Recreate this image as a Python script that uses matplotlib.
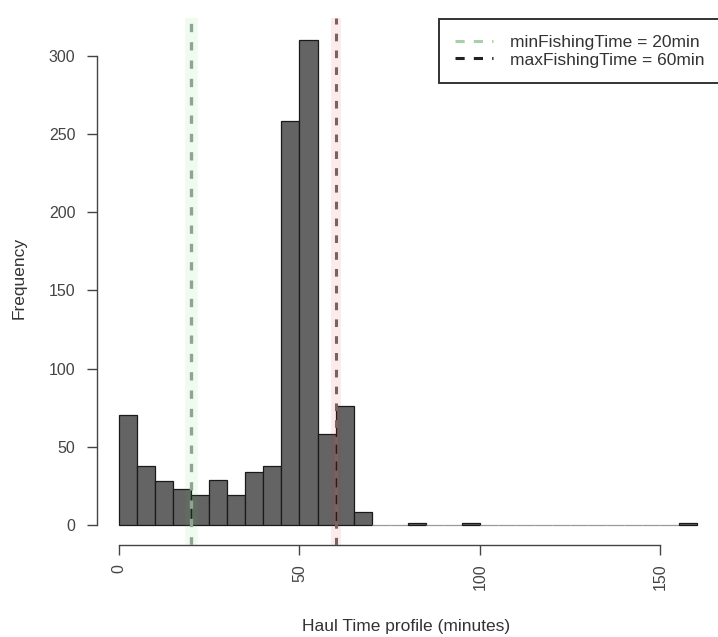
import numpy as np
import matplotlib
matplotlib.use('Agg')
import matplotlib.pyplot as plt
from matplotlib.lines import Line2D

# histogram of haul times, 5 minute bins from 0 to 160
bin_left = list(range(0, 160, 5))
counts = [70, 38, 28, 23, 19, 29, 19, 34, 38, 258, 310, 58, 76, 8,
          0, 0, 1, 0, 0, 1, 0, 0, 0, 0, 0, 0, 0, 0, 0, 0, 0, 1]
bin_width = 5

min_fishing = 20
max_fishing = 60

x_ticks = [0, 50, 100, 150]
y_ticks = [0, 50, 100, 150, 200, 250, 300]

plt.rcParams['font.family'] = ['Liberation Sans', 'DejaVu Sans']

fig = plt.figure(figsize=(7.18, 6.37), dpi=100)
ax = fig.add_axes([97 / 718, 1 - 545 / 637, 621 / 718, 527 / 637])

# empty bins only show as a thin grey baseline
edge_cols = ['#1a1a1a' if c > 0 else '#999999' for c in counts]
ax.bar(bin_left, counts, width=bin_width, align='edge',
       color='#646464', edgecolor=edge_cols, linewidth=0.9, zorder=2)

# threshold lines: faint coloured band plus a dashed grey line
ax.axvline(min_fishing, color='#33cc33', alpha=0.08, lw=9, zorder=3)
ax.axvline(min_fishing, color='#93a393', lw=2.4, ls=(0, (2.5, 3)), zorder=4)
ax.axvline(max_fishing, color='#dd2222', alpha=0.09, lw=7, zorder=3)
ax.axvline(max_fishing, color='#7a6262', lw=2.2, ls=(0, (2.5, 3)), zorder=4)

ax.set_xlim(-22 / 3.61, 599 / 3.61)
ax.set_ylim(-20 / 1.5645, 507 / 1.5645)

for s in ['top', 'right']:
    ax.spines[s].set_visible(False)
ax.spines['left'].set_bounds(0, 300)
ax.spines['bottom'].set_bounds(0, 150)
for s in ['left', 'bottom']:
    ax.spines[s].set_color('#444444')
    ax.spines[s].set_linewidth(1.0)

ax.set_xticks(x_ticks)
ax.set_xticklabels([str(t) for t in x_ticks], rotation=90)
ax.set_yticks(y_ticks)
ax.set_yticklabels([str(t) for t in y_ticks])
ax.tick_params(axis='both', direction='out', length=7.5, width=1.0,
               color='#444444', labelsize=11.5, labelcolor='#444444')
ax.tick_params(axis='y', pad=8)
ax.tick_params(axis='x', pad=6)

ax.set_xlabel('Haul Time profile (minutes)', fontsize=12.5, color='#333333', va='center')
ax.xaxis.set_label_coords(0.497, (545 - 626) / 527)
ax.set_ylabel('Frequency', fontsize=12.5, color='#333333', va='center')
ax.yaxis.set_label_coords((19 - 97) / 621, 0.507)

handles = [Line2D([], [], color='#a8d0a8', lw=2.2, ls=(0, (3, 3))),
           Line2D([], [], color='#222222', lw=2.2, ls=(0, (3, 3)))]
labels = ['minFishingTime = %dmin' % min_fishing,
          'maxFishingTime = %dmin' % max_fishing]
leg = ax.legend(handles, labels, loc='upper left',
                bbox_to_anchor=(439 / 718, 1 - 19 / 637),
                bbox_transform=fig.transFigure, borderaxespad=0,
                fancybox=False, framealpha=1, edgecolor='#333333',
                fontsize=12.5, handlelength=2.2, handletextpad=1.0,
                labelspacing=0.15, borderpad=0.9)
leg.get_frame().set_linewidth(1.4)
for t in leg.get_texts():
    t.set_color('#333333')

fig.savefig('out.png', dpi=100)
